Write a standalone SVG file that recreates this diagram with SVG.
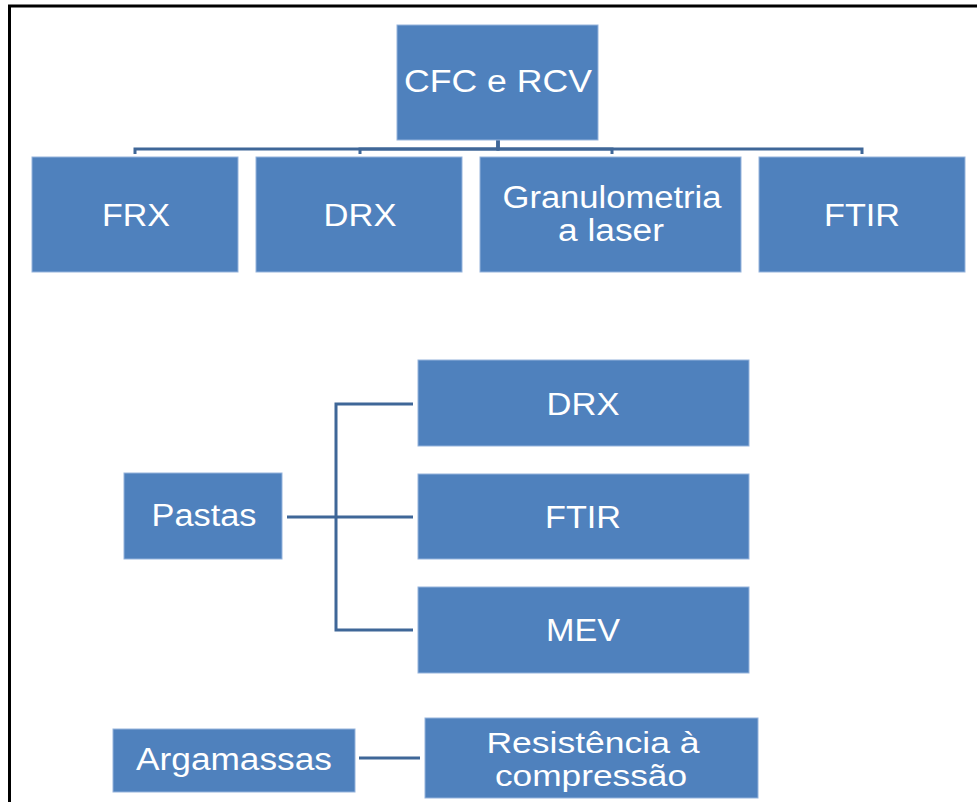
<svg xmlns="http://www.w3.org/2000/svg" width="977" height="802" viewBox="0 0 977 802">
<style>
.box{fill:#4F81BD;stroke:#95B3DC;stroke-width:1}
.t{fill:#FFFFFF;font-family:"Liberation Sans",Arial,sans-serif;font-size:31px;text-anchor:middle}
.s{font-size:29px}
.c{fill:none;stroke:#3F6798;stroke-width:3;stroke-linejoin:miter}
</style>
<rect x="0" y="0" width="977" height="802" fill="#FFFFFF"/>
<g id="frame">
<path d="M9.5,802 V6 H977" fill="none" stroke="#000000" stroke-width="3"/>
</g>
<g id="connectors">
<path class="c" d="M498,140 V149 H135 V154" stroke-width="2.5"/>
<path class="c" d="M498,140 V149 H360 V154" stroke-width="2.5"/>
<path class="c" d="M498,140 V149 H612 V154" stroke-width="2.5"/>
<path class="c" d="M498,140 V149 H862 V154" stroke-width="2.5"/>
<path class="c" d="M287,517 H413"/>
<path class="c" d="M413,404 H336 V630 H413"/>
<path class="c" d="M359,758 H420"/>
</g>
<g id="n-cfc">
<rect class="box" x="397" y="25" width="201" height="115"/>
<text class="t" x="498" y="92" textLength="188" lengthAdjust="spacingAndGlyphs">CFC e RCV</text>
</g>
<g id="n-frx">
<rect class="box" x="32" y="157" width="206" height="115"/>
<text class="t" x="136" y="226" textLength="68" lengthAdjust="spacingAndGlyphs">FRX</text>
</g>
<g id="n-drx1">
<rect class="box" x="256" y="157" width="206" height="115"/>
<text class="t" x="360" y="226" textLength="73" lengthAdjust="spacingAndGlyphs">DRX</text>
</g>
<g id="n-gran">
<rect class="box" x="480" y="157" width="261" height="115"/>
<text class="t" x="612" y="208" textLength="219" lengthAdjust="spacingAndGlyphs">Granulometria</text>
<text class="t" x="611" y="241" textLength="106" lengthAdjust="spacingAndGlyphs">a laser</text>
</g>
<g id="n-ftir1">
<rect class="box" x="759" y="157" width="206" height="115"/>
<text class="t" x="862" y="226" textLength="76" lengthAdjust="spacingAndGlyphs">FTIR</text>
</g>
<g id="n-pastas">
<rect class="box" x="124" y="473" width="158" height="86"/>
<text class="t" x="204" y="526" textLength="105" lengthAdjust="spacingAndGlyphs">Pastas</text>
</g>
<g id="n-drx2">
<rect class="box" x="418" y="360" width="331" height="86"/>
<text class="t" x="583" y="415" textLength="73" lengthAdjust="spacingAndGlyphs">DRX</text>
</g>
<g id="n-ftir2">
<rect class="box" x="418" y="474" width="331" height="85"/>
<text class="t" x="583" y="528" textLength="76" lengthAdjust="spacingAndGlyphs">FTIR</text>
</g>
<g id="n-mev">
<rect class="box" x="418" y="587" width="331" height="86"/>
<text class="t" x="583" y="641" textLength="74" lengthAdjust="spacingAndGlyphs">MEV</text>
</g>
<g id="n-argamassas">
<rect class="box" x="113" y="729" width="242" height="63"/>
<text class="t" x="234" y="770" textLength="196" lengthAdjust="spacingAndGlyphs">Argamassas</text>
</g>
<g id="n-resistencia">
<rect class="box" x="425" y="718" width="333" height="80"/>
<text class="t s" x="593" y="753" textLength="213" lengthAdjust="spacingAndGlyphs">Resistência à</text>
<text class="t s" x="591" y="786" textLength="192" lengthAdjust="spacingAndGlyphs">compressão</text>
</g>
</svg>
